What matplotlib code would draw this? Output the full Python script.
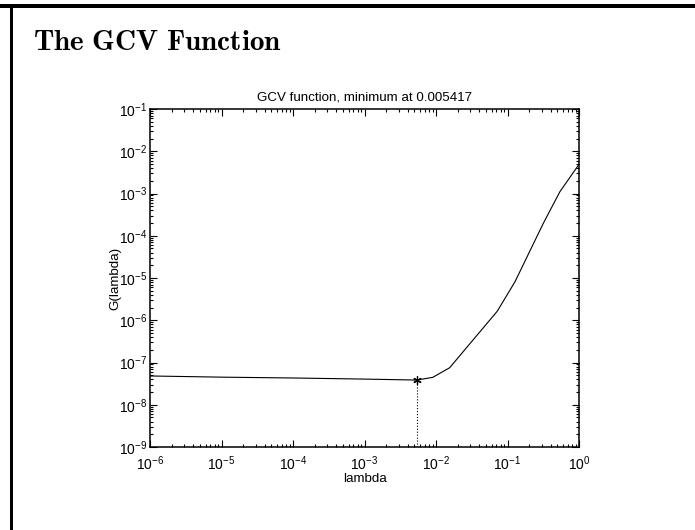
import numpy as np
import matplotlib
matplotlib.use("Agg")
import matplotlib.pyplot as plt
from matplotlib.patches import Rectangle
from matplotlib.ticker import LogLocator, NullFormatter

plt.rcParams['font.family'] = ['Liberation Sans', 'DejaVu Sans']

# GCV curve sampled on the regularization parameter grid
lam = [1e-6, 1e-5, 1e-4, 1e-3, 0.005417, 0.009, 0.0155, 0.072, 0.127, 0.316, 0.54, 1.0]
gcv = [4.8e-8, 4.5e-8, 4.3e-8, 4.05e-8, 3.84e-8, 4.45e-8, 7.5e-8, 1.64e-6, 8.1e-6,
       1.95e-4, 1.1e-3, 4.9e-3]
lam_min = 0.005417
gcv_min = 3.84e-8

W, H = 695, 530
fig = plt.figure(figsize=(W / 100, H / 100), dpi=100)

# slide frame: thick bar along the top and the left edge
fig.patches.append(Rectangle((0, 1 - 8 / H), 1, 4 / H, transform=fig.transFigure,
                             facecolor='black', edgecolor='none'))
fig.patches.append(Rectangle((10 / W, 0), 2.5 / W, 1 - 4 / H, transform=fig.transFigure,
                             facecolor='black', edgecolor='none'))

fig.text(33 / W, 1 - 50 / H, r'$\mathbf{The\ GCV\ Function}$', math_fontfamily='cm',
         fontsize=21, ha='left', va='baseline')

ax = fig.add_axes([150 / W, 1 - 447 / H, 429 / W, 338 / H])
ax.loglog(lam, gcv, color='black', linewidth=0.8)
ax.plot([lam_min, lam_min], [1e-9, gcv_min], color='black', linestyle=':', linewidth=0.8)
# asterisk marker at the minimum
ax.plot(lam_min, gcv_min, marker=(6, 2, 0), color='black', markersize=6,
        markeredgewidth=0.9, linestyle='none')

ax.set_xlim(1e-6, 1)
ax.set_ylim(1e-9, 1e-1)
ax.xaxis.set_major_locator(LogLocator(base=10, numticks=20))
ax.yaxis.set_major_locator(LogLocator(base=10, numticks=20))
ax.xaxis.set_minor_locator(LogLocator(base=10, subs=np.arange(2, 10), numticks=20))
ax.yaxis.set_minor_locator(LogLocator(base=10, subs=np.arange(2, 10), numticks=20))
ax.xaxis.set_minor_formatter(NullFormatter())
ax.yaxis.set_minor_formatter(NullFormatter())

ax.tick_params(which='both', direction='in', top=True, right=True, labelsize=10,
               width=0.8)
ax.tick_params(which='major', length=5)
ax.tick_params(which='minor', length=2.5)
ax.tick_params(axis='x', which='major', pad=5)
ax.tick_params(axis='y', which='major', pad=2)
for s in ax.spines.values():
    s.set_linewidth(1.1)

ax.text(0.5, 1 + 9 / 338, 'GCV function, minimum at 0.005417', transform=ax.transAxes,
        ha='center', va='baseline', fontsize=9.6)
ax.set_xlabel('lambda', fontsize=9.6, labelpad=0)
ax.set_ylabel('G(lambda)', fontsize=9.6, labelpad=-2)

fig.savefig('out.png', dpi=100)
